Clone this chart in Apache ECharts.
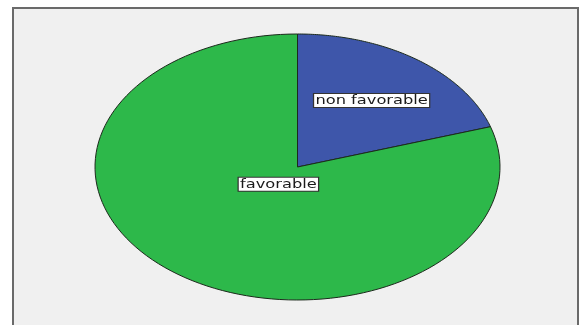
<!DOCTYPE html>
<html>
<head>
<meta charset="utf-8">
<script src="https://cdn.jsdelivr.net/npm/echarts@6/dist/echarts.min.js"></script>
<style>
html,body{margin:0;padding:0;background:#ffffff;}
#chart{width:581px;height:325px;}
</style>
</head>
<body>
<div id="chart"></div>
<script>
// ---- data ----
const categories = ['non favorable', 'favorable'];
const values = [20.1, 79.9];

// ---- styling (kept separate from data) ----
const sliceColors = ['#3e56aa', '#2db84a'];
const labelRadius = [0.62, 0.16];

const total = values.reduce((a, b) => a + b, 0);
const chart = echarts.init(document.getElementById('chart'), null, {renderer: 'canvas'});

function sliceAngles(i) {
  let before = 0;
  for (let k = 0; k < i; k++) before += values[k];
  const start = 90 - 360 * before / total;
  const end = start - 360 * values[i] / total;
  return [start, end];
}

function renderItem(params, api) {
  const i = params.dataIndex;
  const [start, end] = sliceAngles(i);
  const N = 120;
  const pts = [api.coord([0, 0])];
  for (let k = 0; k <= N; k++) {
    const a = (start + (end - start) * k / N) * Math.PI / 180;
    pts.push(api.coord([Math.cos(a), Math.sin(a)]));
  }
  const mid = ((start + end) / 2) * Math.PI / 180;
  const lp = api.coord([labelRadius[i] * Math.cos(mid), labelRadius[i] * Math.sin(mid)]);
  return {
    type: 'group',
    children: [
      {
        type: 'polygon',
        shape: {points: pts},
        style: {fill: sliceColors[i], stroke: '#1c2a1c', lineWidth: 1}
      },
      {
        type: 'text',
        z2: 100,
        x: lp[0], y: lp[1],
        scaleX: 1.25,
        style: {
          text: categories[i],
          align: 'center', verticalAlign: 'middle',
          fill: '#1a1a1a',
          font: '13px "DejaVu Sans"',
          backgroundColor: '#ffffff',
          borderColor: '#333333',
          borderWidth: 1,
          padding: [0, 1, 0, 1]
        }
      }
    ]
  };
}

chart.setOption({
  animation: false,
  backgroundColor: '#ffffff',
  graphic: [{
    type: 'rect',
    z: -10,
    shape: {x: 13, y: 8, width: 565, height: 330},
    style: {fill: '#f0f0f0', stroke: '#6a6a6a', lineWidth: 2}
  }],
  grid: {left: 95, right: 81, top: 34, bottom: 25},
  xAxis: {type: 'value', min: -1, max: 1, show: false},
  yAxis: {type: 'value', min: -1, max: 1, show: false},
  series: [{
    type: 'custom',
    coordinateSystem: 'cartesian2d',
    renderItem: renderItem,
    data: categories.map((c, i) => ({name: c, value: [0, 0, values[i]]})),
    encode: {x: 0, y: 1}
  }]
});
</script>
</body>
</html>
